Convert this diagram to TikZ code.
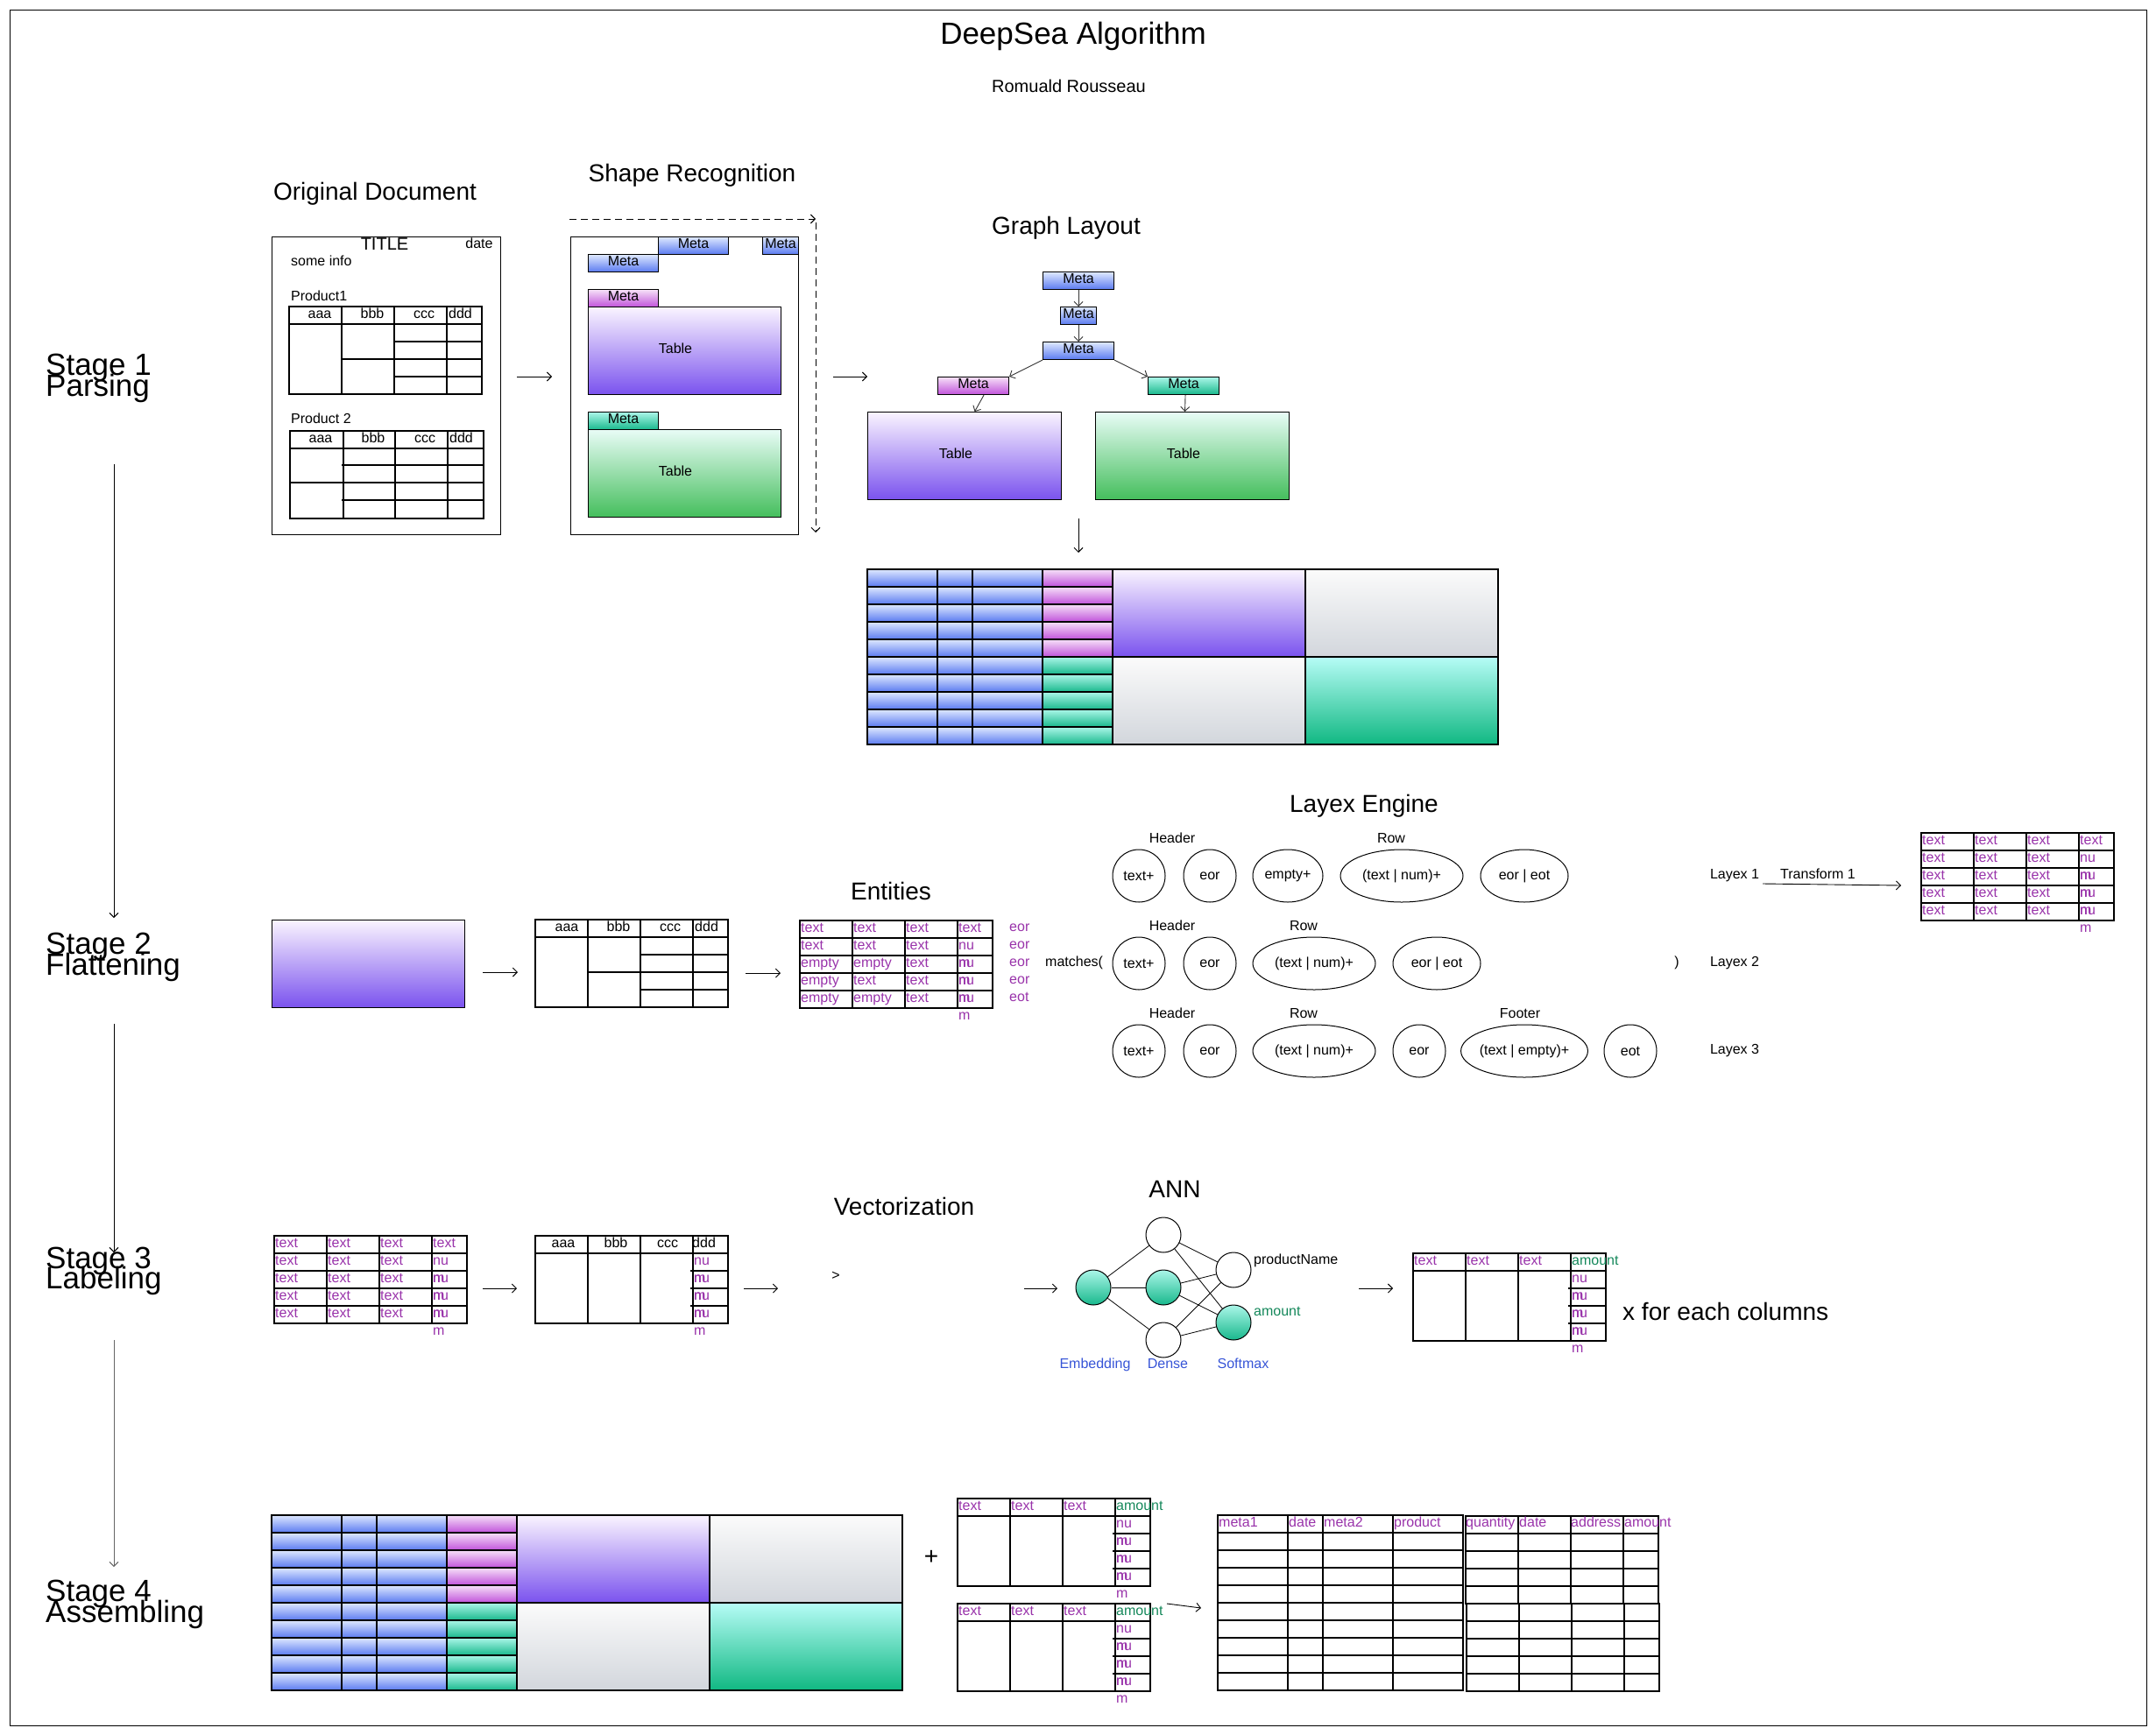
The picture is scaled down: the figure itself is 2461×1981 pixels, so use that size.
\documentclass[tikz,border=0pt]{standalone}
\usepackage{fontspec}
\setmainfont{Liberation Sans}
\usetikzlibrary{arrows.meta,shapes.geometric,calc}

\definecolor{tpurple}{RGB}{153,51,170}
\definecolor{tgreen}{RGB}{20,135,90}
\definecolor{tblue}{RGB}{55,85,215}
\definecolor{bluetop}{RGB}{222,232,255}
\definecolor{bluebot}{RGB}{90,122,240}
\definecolor{magtop}{RGB}{246,224,248}
\definecolor{magbot}{RGB}{192,82,218}
\definecolor{tealtop}{RGB}{170,246,232}
\definecolor{tealbot}{RGB}{24,184,140}
\definecolor{purtop}{RGB}{250,244,255}
\definecolor{purbot}{RGB}{122,82,238}
\definecolor{grntop}{RGB}{232,252,246}
\definecolor{grnbot}{RGB}{68,190,92}
\definecolor{grytop}{RGB}{251,251,251}
\definecolor{grybot}{RGB}{210,214,220}
\definecolor{cyntop}{RGB}{182,252,246}
\definecolor{cynbot}{RGB}{16,184,130}

\newcommand{\bigtab}[2]{%
  \foreach \rr in {0,...,9}{
    \foreach \cx/\cw in {0/80,80/40,120/80}{
      \shade[bluefill] (#1+\cx,#2+\rr*20) rectangle ++(\cw,20);
    }
  }
  \foreach \rr in {0,...,4}{\shade[magfill] (#1+200,#2+\rr*20) rectangle ++(80,20);}
  \foreach \rr in {5,...,9}{\shade[tealfill] (#1+200,#2+\rr*20) rectangle ++(80,20);}
  \shade[purfill] (#1+280,#2) rectangle ++(220,100);
  \shade[gryfill] (#1+280,#2+100) rectangle ++(220,100);
  \shade[gryfill] (#1+500,#2) rectangle ++(220,100);
  \shade[cynfill] (#1+500,#2+100) rectangle ++(220,100);
  \draw[gline] (#1,#2) rectangle ++(720,200);
  \foreach \cx in {80,120,200,280,500}{\draw[gline] (#1+\cx,#2) -- ++(0,200);}
  \foreach \rr in {1,...,9}{\draw[gline] (#1,#2+\rr*20) -- ++(280,0);}
  \draw[gline] (#1+280,#2+100) -- ++(440,0);
}

\newcommand{\enttab}[4]{%
  \draw[gline] (#1,#2) rectangle ++(220,100);
  \foreach \cx in {60,120,180}{\draw[gline] (#1+\cx,#2) -- ++(0,100);}
  \foreach \ry in {20,40,60,80}{\draw[gline] (#1,#2+\ry) -- ++(220,0);}
  \foreach \a/\b/\c [count=\i from 0] in {#4}{
    \node[ptxt] (#3a\i) at (#1+1,#2+\i*20+13) {\a};
    \node[ptxt] (#3b\i) at (#1+61,#2+\i*20+13) {\b};
    \node[ptxt] (#3c\i) at (#1+121,#2+\i*20+13) {\c};
  }
  \node[ptxt] (#3d0) at (#1+181,#2+13) {text};
  \foreach \i in {1,...,4}{
    \node[ptxt] (#3d\i) at (#1+181,#2+\i*20+13) {nu};
    \node[ptxt] (#3m\i) at (#1+181,#2+\i*20+33) {m};
  }
}

\newcommand{\hdrtab}[3]{%
  \draw[gline] (#1,#2) rectangle ++(220,100);
  \draw[gline] (#1,#2+20) -- ++(220,0);
  \foreach \cx in {60,120,180}{\draw[gline] (#1+\cx,#2) -- ++(0,100);}
  \foreach \ry in {40,60,80}{\draw[gline] (#1+177,#2+\ry) -- ++(43,0);}
  \foreach \i in {1,...,4}{
    \node[ptxt] (#3n\i) at (#1+181,#2+\i*20+13) {nu};
    \node[ptxt] (#3m\i) at (#1+181,#2+\i*20+33) {m};
  }
}

\newcommand{\texthdr}[3]{%
  \node[ptxt] (#3h1) at (#1+1,#2+13) {text};
  \node[ptxt] (#3h2) at (#1+61,#2+13) {text};
  \node[ptxt] (#3h3) at (#1+121,#2+13) {text};
  \node[gtxt] (#3h4) at (#1+181,#2+13) {amount};
}

\begin{document}
\begin{tikzpicture}[x=1pt,y=-1pt,
  arr/.style={-{Straight Barb[length=5pt,width=10pt]}, line width=0.9pt},
  gline/.style={line width=1.1pt},
  f16/.style={font=\fontsize{16}{19}\selectfont, inner sep=0pt},
  f20/.style={font=\fontsize{20}{24}\selectfont, inner sep=0pt},
  f28/.style={font=\fontsize{28}{33}\selectfont, inner sep=0pt},
  f35/.style={font=\fontsize{35}{40}\selectfont, inner sep=0pt},
  ptxt/.style={f16, text=tpurple, anchor=base west},
  gtxt/.style={f16, text=tgreen, anchor=base west},
  btxt/.style={f16, anchor=base},
  ltxt/.style={f16, text=tblue, anchor=base},
  rbox/.style={draw, line width=1.1pt, anchor=north west, inner sep=0pt},
  metabox/.style={rbox, f16, text height=11.5pt, text depth=5.5pt, minimum height=20pt},
  bluefill/.style={top color=bluetop, bottom color=bluebot},
  magfill/.style={top color=magtop, bottom color=magbot},
  tealfill/.style={top color=tealtop, bottom color=tealbot},
  purfill/.style={top color=purtop, bottom color=purbot},
  grnfill/.style={top color=grntop, bottom color=grnbot},
  gryfill/.style={top color=grytop, bottom color=grybot},
  cynfill/.style={top color=cyntop, bottom color=cynbot},
  lxoval/.style={ellipse, draw, line width=1pt, minimum height=60pt, inner sep=0pt, f16},
  neuron/.style={circle, draw, line width=1pt, minimum size=40pt, inner sep=0pt},
]
\useasboundingbox (0,0) rectangle (2461,1981);
\draw[line width=1pt] (11,11) rectangle (2450,1970);

% titles
\node[f35, anchor=base] (title) at (1225,50) {DeepSea Algorithm};
\node[f20, anchor=base] (author) at (1220,105) {Romuald Rousseau};

% stage labels
\node[f35, anchor=base west] (s1a) at (52,428) {Stage 1};
\node[f35, anchor=base west] (s1b) at (52,452) {Parsing};
\node[f35, anchor=base west] (s2a) at (52,1089) {Stage 2};
\node[f35, anchor=base west] (s2b) at (52,1113) {Flattening};
\node[f35, anchor=base west] (s3a) at (52,1448) {Stage 3};
\node[f35, anchor=base west] (s3b) at (52,1471) {Labeling};
\node[f35, anchor=base west] (s4a) at (52,1828) {Stage 4};
\node[f35, anchor=base west] (s4b) at (52,1852) {Assembling};

\coordinate (v1s) at (130,530); \coordinate (v1e) at (130,1048);
\coordinate (v2s) at (130,1169); \coordinate (v2e) at (130,1430);
\coordinate (v3s) at (130,1530); \coordinate (v3e) at (130,1789);
\draw[arr] (v1s) -- (v1e);
\draw[arr] (v2s) -- (v2e);
\draw[arr, black!60] (v3s) -- (v3e);

% section headers
\node[f28, anchor=base] (hOD) at (428,228) {Original Document};
\node[f28, anchor=base] (hSR) at (790,207) {Shape Recognition};
\node[f28, anchor=base] (hGL) at (1217,267) {Graph Layout};
\node[f28, anchor=base] (hEN) at (1017,1027) {Entities};
\node[f28, anchor=base] (hLE) at (1557,927) {Layex Engine};
\node[f28, anchor=base] (hVE) at (1032,1387) {Vectorization};
\node[f28, anchor=base] (hANN) at (1341,1367) {ANN};
\node[f28, anchor=base west] (xcols) at (1852,1507) {x for each columns};

% ---------- Original document ----------
\node[rbox, minimum width=261pt, minimum height=340pt] (od) at (310,270) {};
\node[f20, anchor=base] (odtitle) at (439,285) {TITLE};
\node[btxt] (oddate) at (547,283) {date};
\node[f16, anchor=base west] (odinfo) at (332,303) {some info};
\node[f16, anchor=base west] (odp1) at (332,343) {Product1};
\node[f16, anchor=base west] (odp2) at (332,483) {Product 2};
% table 1
\draw[gline] (330,350) rectangle (550,450);
\draw[gline] (330,370) -- (550,370);
\draw[gline] (390,350) -- (390,450) (450,350) -- (450,450) (510,350) -- (510,450);
\draw[gline] (450,390) -- (550,390) (390,410) -- (550,410) (450,430) -- (550,430);
\node[btxt] (o1a) at (365,363) {aaa};
\node[btxt] (o1b) at (425,363) {bbb};
\node[btxt] (o1c) at (484,363) {ccc};
\node[f16, anchor=base west] (o1d) at (512,363) {ddd};
% table 2
\draw[gline] (331,492) rectangle (552,592);
\draw[gline] (331,512) -- (552,512);
\draw[gline] (392,492) -- (392,592) (451,492) -- (451,592) (511,492) -- (511,592);
\draw[gline] (390,531) -- (552,531) (331,551) -- (552,551) (390,571) -- (552,571);
\node[btxt] (o2a) at (366,505) {aaa};
\node[btxt] (o2b) at (426,505) {bbb};
\node[btxt] (o2c) at (485,505) {ccc};
\node[f16, anchor=base west] (o2d) at (513,505) {ddd};

\coordinate (a1s) at (590,430); \coordinate (a1e) at (630,430);
\draw[arr] (a1s) -- (a1e);

% ---------- Shape recognition ----------
\node[rbox, minimum width=260pt, minimum height=340pt] (sr) at (651,270) {};
\node[metabox, bluefill, minimum width=80pt] (sA) at (751,270) {Meta};
\node[metabox, bluefill, minimum width=41pt] (sB) at (870,270) {Meta};
\node[metabox, bluefill, minimum width=80pt] (sC) at (671,290) {Meta};
\node[metabox, magfill, minimum width=80pt] (sD) at (671,330) {Meta};
\node[rbox, purfill, minimum width=220pt, minimum height=100pt] (sT1) at (671,350) {};
\node[btxt] (sT1l) at (771,403) {Table};
\node[metabox, tealfill, minimum width=80pt] (sE) at (671,470) {Meta};
\node[rbox, grnfill, minimum width=220pt, minimum height=100pt] (sT2) at (671,490) {};
\node[btxt] (sT2l) at (771,543) {Table};
\coordinate (dh1) at (650,250); \coordinate (dh2) at (931,250);
\coordinate (dv1) at (931,254); \coordinate (dv2) at (931,608);
\draw[arr, dash pattern=on 8pt off 5pt] (dh1) -- (dh2);
\draw[arr, dash pattern=on 8pt off 5pt] (dv1) -- (dv2);

\coordinate (a2s) at (951,430); \coordinate (a2e) at (990,430);
\draw[arr] (a2s) -- (a2e);

% ---------- Graph layout ----------
\node[metabox, bluefill, minimum width=81pt] (gm1) at (1190,310) {Meta};
\node[metabox, bluefill, minimum width=41pt] (gm2) at (1210,350) {Meta};
\node[metabox, bluefill, minimum width=81pt] (gm3) at (1190,390) {Meta};
\node[metabox, magfill, minimum width=81pt] (gmp) at (1070,430) {Meta};
\node[metabox, tealfill, minimum width=81pt] (gmt) at (1310,430) {Meta};
\node[rbox, purfill, minimum width=221pt, minimum height=100pt] (gt1) at (990,470) {};
\node[btxt] (gt1l) at (1091,523) {Table};
\node[rbox, grnfill, minimum width=221pt, minimum height=100pt] (gt2) at (1250,470) {};
\node[btxt] (gt2l) at (1351,523) {Table};
\draw[arr, black!80] (gm1.south) -- (gm2.north);
\draw[arr, black!80] (gm2.south) -- (gm3.north);
\draw[arr, black!80] (gm3.south west) -- (gmp.north east);
\draw[arr, black!80] (gm3.south east) -- (gmt.north west);
\draw[arr, black!80] ([xshift=12pt]gmp.south) -- ([xshift=11.5pt]gt1.north);
\draw[arr, black!80] ([xshift=2pt]gmt.south) -- ([xshift=-8.5pt]gt2.north);
\coordinate (a3s) at (1231,592); \coordinate (a3e) at (1231,631);
\draw[arr] (a3s) -- (a3e);

\bigtab{990}{650}

% ---------- Stage 2 ----------
\node[rbox, purfill, minimum width=220pt, minimum height=100pt] (flat) at (310,1050) {};
\coordinate (b1s) at (551,1110); \coordinate (b1e) at (591,1110);
\draw[arr] (b1s) -- (b1e);
\draw[gline] (611,1050) rectangle (831,1150);
\draw[gline] (611,1070) -- (831,1070);
\draw[gline] (671,1050) -- (671,1150) (731,1050) -- (731,1150) (791,1050) -- (791,1150);
\draw[gline] (731,1090) -- (831,1090) (671,1110) -- (831,1110) (731,1130) -- (831,1130);
\node[btxt] (f2a) at (647,1063) {aaa};
\node[btxt] (f2b) at (706,1063) {bbb};
\node[btxt] (f2c) at (765,1063) {ccc};
\node[f16, anchor=base west] (f2d) at (793,1063) {ddd};
\coordinate (b2s) at (851,1111); \coordinate (b2e) at (891,1111);
\draw[arr] (b2s) -- (b2e);

\enttab{913}{1051}{en}{text/text/text, text/text/text, empty/empty/text, empty/text/text, empty/empty/text}
\node[ptxt] (eor1) at (1152,1063) {eor};
\node[ptxt] (eor2) at (1152,1083) {eor};
\node[ptxt] (eor3) at (1152,1103) {eor};
\node[ptxt] (eor4) at (1152,1123) {eor};
\node[ptxt] (eot1) at (1152,1143) {eot};

\node[f16, anchor=base west] (matches) at (1193,1103) {matches(};
\node[btxt] (closep) at (1914,1103) {)};

% Layex rows
\node[btxt] (h1) at (1338,962) {Header};
\node[btxt] (r1) at (1588,962) {Row};
\node[lxoval, minimum width=60pt] (l1a) at (1300,1000) {text+};
\node[lxoval, minimum width=60pt] (l1b) at (1381,1000) {eor};
\node[lxoval, minimum width=80pt] (l1c) at (1470,1000) {empty+};
\node[lxoval, minimum width=140pt] (l1d) at (1600,1000) {(text | num)+};
\node[lxoval, minimum width=100pt] (l1e) at (1740,1000) {eor | eot};

\node[btxt] (h2) at (1338,1062) {Header};
\node[btxt] (r2) at (1488,1062) {Row};
\node[lxoval, minimum width=60pt] (l2a) at (1300,1100) {text+};
\node[lxoval, minimum width=60pt] (l2b) at (1381,1100) {eor};
\node[lxoval, minimum width=140pt] (l2c) at (1500,1100) {(text | num)+};
\node[lxoval, minimum width=100pt] (l2d) at (1640,1100) {eor | eot};

\node[btxt] (h3) at (1338,1162) {Header};
\node[btxt] (r3) at (1488,1162) {Row};
\node[btxt] (ft3) at (1735,1162) {Footer};
\node[lxoval, minimum width=60pt] (l3a) at (1300,1200) {text+};
\node[lxoval, minimum width=60pt] (l3b) at (1381,1200) {eor};
\node[lxoval, minimum width=140pt] (l3c) at (1500,1200) {(text | num)+};
\node[lxoval, minimum width=60pt] (l3d) at (1620,1200) {eor};
\node[lxoval, minimum width=140pt] (l3e) at (1740,1200) {(text | empty)+};
\node[lxoval, minimum width=60pt] (l3f) at (1861,1200) {eot};

\node[btxt] (lx1) at (1980,1003) {Layex 1};
\node[btxt] (lx2) at (1980,1103) {Layex 2};
\node[btxt] (lx3) at (1980,1203) {Layex 3};
\node[btxt] (tr1) at (2075,1003) {Transform 1};
\coordinate (t1s) at (2012,1009); \coordinate (t1e) at (2170,1011);
\draw[arr] (t1s) -- (t1e);
\enttab{2193}{951}{lo}{text/text/text, text/text/text, text/text/text, text/text/text, text/text/text}

% ---------- Stage 3 ----------
\enttab{313}{1411}{sa}{text/text/text, text/text/text, text/text/text, text/text/text, text/text/text}
\coordinate (c1s) at (551,1471); \coordinate (c1e) at (590,1471);
\draw[arr] (c1s) -- (c1e);
\hdrtab{611}{1411}{sb}
\node[btxt] (sbh1) at (643,1424) {aaa};
\node[btxt] (sbh2) at (703,1424) {bbb};
\node[btxt] (sbh3) at (762,1424) {ccc};
\node[f16, anchor=base west] (sbh4) at (790,1424) {ddd};
\coordinate (c2s) at (849,1471); \coordinate (c2e) at (888,1471);
\draw[arr] (c2s) -- (c2e);
\node[f16] (gtsym) at (954,1457) {>};
\coordinate (c3s) at (1169,1471); \coordinate (c3e) at (1207,1471);
\draw[arr] (c3s) -- (c3e);

% ANN
\node[neuron, tealfill] (emb) at (1248,1470) {};
\node[neuron] (d1) at (1328,1410) {};
\node[neuron, tealfill] (d2) at (1328,1470) {};
\node[neuron] (d3) at (1328,1530) {};
\node[neuron] (o1) at (1408,1450) {};
\node[neuron, tealfill] (o2) at (1408,1510) {};
\foreach \d in {d1,d2,d3}{\draw[line width=0.8pt] (emb) -- (\d);}
\foreach \d in {d1,d2,d3}{\foreach \o in {o1,o2}{\draw[line width=0.8pt] (\d) -- (\o);}}
\node[f16, anchor=base west] (pname) at (1431,1443) {productName};
\node[gtxt] (amt) at (1431,1502) {amount};
\node[ltxt] (lemb) at (1250,1562) {Embedding};
\node[ltxt] (lden) at (1333,1562) {Dense};
\node[ltxt] (lsof) at (1419,1562) {Softmax};
\coordinate (c4s) at (1551,1471); \coordinate (c4e) at (1590,1471);
\draw[arr] (c4s) -- (c4e);
\hdrtab{1613}{1431}{ao}
\texthdr{1613}{1431}{ao}

% ---------- Stage 4 ----------
\bigtab{310}{1730}
\node[f28] (plus) at (1063,1778) {+};
\hdrtab{1093}{1711}{ta}
\texthdr{1093}{1711}{ta}
\hdrtab{1093}{1831}{tb}
\texthdr{1093}{1831}{tb}
\coordinate (d4s) at (1332,1831); \coordinate (d4e) at (1371,1836);
\draw[arr] (d4s) -- (d4e);

% final table
\draw[gline] (1390,1730) rectangle (1670,1930);
\foreach \cx in {1470,1510,1590}{\draw[gline] (\cx,1730) -- (\cx,1930);}
\foreach \rr in {1,...,9}{\draw[gline] (1390,1730+\rr*20) -- (1670,1730+\rr*20);}
\draw[gline] (1673,1731) rectangle (1893,1831);
\draw[gline] (1674,1831) rectangle (1894,1931);
\foreach \cx in {1733,1793,1853}{\draw[gline] (\cx,1731) -- (\cx,1831) (\cx+1,1831) -- (\cx+1,1931);}
\foreach \rr in {1,...,4}{\draw[gline] (1673,1731+\rr*20) -- (1893,1731+\rr*20) (1674,1831+\rr*20) -- (1894,1831+\rr*20);}
\node[ptxt] (fh1) at (1391,1743) {meta1};
\node[ptxt] (fh2) at (1471,1743) {date};
\node[ptxt] (fh3) at (1511,1743) {meta2};
\node[ptxt] (fh4) at (1591,1743) {product};
\node[ptxt] (fh5) at (1673,1743) {quantity};
\node[ptxt] (fh6) at (1734,1743) {date};
\node[ptxt] (fh7) at (1793,1743) {address};
\node[ptxt] (fh8) at (1854,1743) {amount};
\end{tikzpicture}
\end{document}
